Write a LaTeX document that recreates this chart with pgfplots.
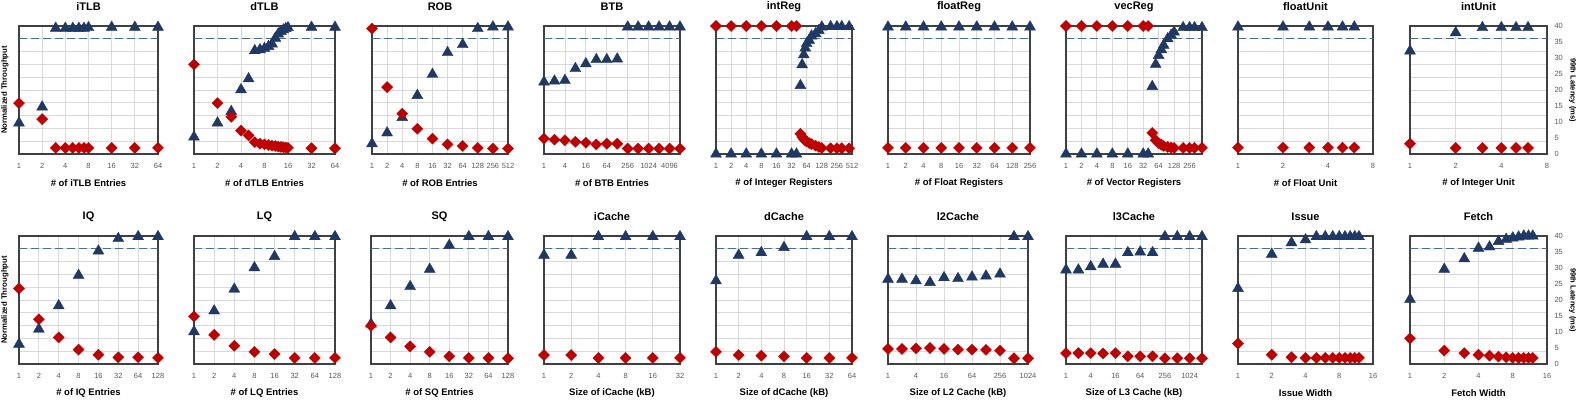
\documentclass[border=0pt]{standalone}
\usepackage{fontspec}
\setmainfont{Liberation Sans}
\usepackage{pgfplots}
\pgfplotsset{compat=1.18}

\definecolor{navy}{RGB}{31,56,100}
\definecolor{darkred}{RGB}{192,0,0}
\definecolor{slablue}{RGB}{46,117,182}
\definecolor{gridgray}{RGB}{217,217,217}
\definecolor{tickgray}{RGB}{89,89,89}

\pgfplotsset{
  every axis/.append style={
    scale only axis, height=128pt,
    ymin=0, ymax=40,
    ytick={0,4,...,40}, yticklabels={},
    ymajorgrids, xmajorgrids,
    grid style={draw=gridgray, line width=0.8pt},
    axis line style={draw=black!75, line width=1.1pt},
    tick style={draw=none},
    clip=false,
    xticklabel style={font=\fontsize{7.5}{8}\selectfont, text=tickgray, yshift=-6pt},
    title style={font=\bfseries\fontsize{11}{12}\selectfont,
      at={([yshift=13pt]axis description cs:0.5,1)}, anchor=center},
    xlabel style={font=\bfseries\fontsize{9.5}{10}\selectfont,
      at={([yshift=-29pt]axis description cs:0.5,0)}, anchor=center},
  },
  myleft/.style={
    ylabel={Normalized Throughput},
    ylabel style={font=\bfseries\fontsize{7.8}{8}\selectfont,
      at={([xshift=-14pt]axis description cs:0,0.5)}, anchor=center},
  },
  myright/.style={
    yticklabel pos=right,
    extra y ticks={0,5,...,40},
    extra y tick labels={0,5,10,15,20,25,30,35,40},
    extra y tick style={grid=none},
    yticklabel style={font=\fontsize{7.5}{8}\selectfont, text=tickgray, xshift=4pt},
    ylabel={99th Latency (ms)},
    ylabel style={font=\bfseries\fontsize{7.5}{8}\selectfont,
      at={([xshift=25.5pt]axis description cs:1,0.5)}, anchor=center, rotate=180},
  },
  myslo/.style={no markers, draw=slablue, line width=1.3pt, dash pattern=on 8pt off 4pt, forget plot},
  mythr/.style={only marks, mark=triangle*, mark size=6.3pt, color=navy},
  mylat/.style={only marks, mark=square*, mark size=3.9pt, mark options={rotate=45}, color=darkred},
}

\begin{document}
\begin{tikzpicture}
\useasboundingbox (0,0) rectangle (1579pt,399pt);

% ---------------- row 1 ----------------
\begin{axis}[xmode=log, log basis x=2, myleft, anchor=south west, at={(19pt,245pt)}, width=139pt,
  title={iTLB}, xlabel={\# of iTLB Entries},
  xmin=1, xmax=64, xtick={1,2,4,8,16,32,64}, xticklabels={1,2,4,8,16,32,64}]
\addplot[myslo] coordinates {(1,36) (64,36)};
\addplot[mythr] coordinates {(1,9.7)(2,14.7)(3,39.3)(4,39.3)(5,39.3)(6,39.3)(7,39.3)(8,39.5)(16,39.6)(32,39.6)(64,39.6)};
\addplot[mylat] coordinates {(1,15.9)(2,10.9)(3,1.9)(4,1.9)(5,1.9)(6,1.9)(7,1.9)(8,1.9)(16,1.9)(32,1.9)(64,1.9)};
\end{axis}

\begin{axis}[xmode=log, log basis x=2, anchor=south west, at={(194pt,245pt)}, width=141pt,
  title={dTLB}, xlabel={\# of dTLB Entries},
  xmin=1, xmax=64, xtick={1,2,4,8,16,32,64}, xticklabels={1,2,4,8,16,32,64}]
\addplot[myslo] coordinates {(1,36) (64,36)};
\addplot[mythr] coordinates {(1,5.3)(2,9.7)(3,13.3)(4,20.1)(5,23.5)(6,32.3)(7,32.6)(8,33.0)(9,33.6)(10,34.4)(11,36.2)(12,37.5)(13,38.3)(14,38.8)(15,39.2)(16,39.5)(32,39.6)(64,39.6)};
\addplot[mylat] coordinates {(1,28.0)(2,15.9)(3,11.6)(4,7.3)(5,5.8)(6,3.7)(7,3.2)(8,3.0)(9,2.8)(10,2.6)(11,2.5)(12,2.3)(13,2.2)(14,2.1)(15,2.0)(16,1.9)(32,1.8)(64,1.8)};
\end{axis}

\begin{axis}[xmode=log, log basis x=2, anchor=south west, at={(372pt,245pt)}, width=136pt,
  title={ROB}, xlabel={\# of ROB Entries},
  xmin=1, xmax=512, xtick={1,2,4,8,16,32,64,128,256,512}, xticklabels={1,2,4,8,16,32,64,128,256,512}]
\addplot[myslo] coordinates {(1,36) (512,36)};
\addplot[mythr] coordinates {(1,3.2)(2,6.6)(4,11.4)(8,18.3)(16,24.9)(32,31.7)(64,34.2)(128,39.2)(256,39.7)(512,39.7)};
\addplot[mylat] coordinates {(1,39.2)(2,20.9)(4,12.6)(8,7.9)(16,4.8)(32,3.0)(64,2.5)(128,1.9)(256,1.7)(512,1.7)};
\end{axis}

\begin{axis}[xmode=log, log basis x=2, anchor=south west, at={(544pt,245pt)}, width=136pt,
  title={BTB}, xlabel={\# of BTB Entries},
  xmin=1, xmax=8192, xtick={1,4,16,64,256,1024,4096}, xticklabels={1,4,16,64,256,1024,4096}]
\addplot[myslo] coordinates {(1,36) (8192,36)};
\addplot[mythr] coordinates {(1,22.5)(2,22.8)(4,23.0)(8,26.7)(16,28.2)(32,29.5)(64,29.5)(128,29.7)(256,39.7)(512,39.7)(1024,39.7)(2048,39.7)(4096,39.7)(8192,39.7)};
\addplot[mylat] coordinates {(1,4.8)(2,4.5)(4,4.3)(8,3.8)(16,3.5)(32,3.0)(64,3.2)(128,3.2)(256,1.7)(512,1.7)(1024,1.7)(2048,1.7)(4096,1.7)(8192,1.7)};
\end{axis}

\begin{axis}[xmode=log, log basis x=2, anchor=south west, at={(716pt,245pt)}, width=136pt,
  title={intReg}, xlabel={\# of Integer Registers},
  xmin=1, xmax=512, xtick={1,2,4,8,16,32,64,128,256,512}, xticklabels={1,2,4,8,16,32,64,128,256,512}]
\addplot[myslo] coordinates {(1,36) (512,36)};
\addplot[mythr] coordinates {(1,0)(2,0)(4,0)(8,0)(16,0)(32,0)(40,0)(48,21.4)(52,27.9)(56,31.0)(60,33.1)(64,34.5)(72,35.5)(80,36.9)(96,37.6)(112,38.6)(128,39.7)(192,39.8)(256,39.8)(320,39.8)(448,39.8)};
\addplot[mylat] coordinates {(1,40)(2,40)(4,40)(8,40)(16,40)(32,40)(40,40)(48,6.3)(52,5.3)(56,4.7)(60,4.2)(64,3.9)(72,3.4)(80,3.1)(96,2.6)(112,2.2)(128,1.9)(192,1.8)(256,1.8)(320,1.8)(448,1.8)};
\end{axis}

\begin{axis}[xmode=log, log basis x=2, anchor=south west, at={(888pt,245pt)}, width=142pt,
  title={floatReg}, xlabel={\# of Float Registers},
  xmin=1, xmax=256, xtick={1,2,4,8,16,32,64,128,256}, xticklabels={1,2,4,8,16,32,64,128,256}]
\addplot[myslo] coordinates {(1,36) (256,36)};
\addplot[mythr] coordinates {(1,39.7)(2,39.7)(4,39.7)(8,39.7)(16,39.7)(32,39.7)(64,39.7)(128,39.7)(256,39.7)};
\addplot[mylat] coordinates {(1,1.9)(2,1.9)(4,1.9)(8,1.9)(16,1.9)(32,1.9)(64,1.9)(128,1.9)(256,1.9)};
\end{axis}

\begin{axis}[xmode=log, log basis x=2, anchor=south west, at={(1066pt,245pt)}, width=136pt,
  title={vecReg}, xlabel={\# of Vector Registers},
  xmin=1, xmax=448, xtick={1,2,4,8,16,32,64,128,256}, xticklabels={1,2,4,8,16,32,64,128,256}]
\addplot[myslo] coordinates {(1,36) (448,36)};
\addplot[mythr] coordinates {(1,0)(2,0)(4,0)(8,0)(16,0)(32,0)(40,0)(48,21.1)(56,28.0)(64,30.8)(72,32.6)(80,34.0)(96,36.0)(112,37.1)(128,38.1)(192,39.5)(256,39.5)(320,39.5)(448,39.5)};
\addplot[mylat] coordinates {(1,40)(2,40)(4,40)(8,40)(16,40)(32,40)(40,40)(48,6.6)(56,4.3)(64,3.4)(72,2.9)(80,2.5)(96,2.2)(112,2.0)(128,1.9)(192,1.9)(256,1.9)(320,1.9)(448,1.9)};
\end{axis}

\begin{axis}[xmode=log, log basis x=2, anchor=south west, at={(1238pt,245pt)}, width=135pt,
  title={floatUnit}, xlabel={\# of Float Unit},
  xmin=1, xmax=8, xtick={1,2,4,8}, xticklabels={1,2,4,8}]
\addplot[myslo] coordinates {(1,36) (8,36)};
\addplot[mythr] coordinates {(1,39.7)(2,39.7)(3,39.7)(4,39.7)(5,39.7)(6,39.7)};
\addplot[mylat] coordinates {(1,2.0)(2,2.0)(3,2.0)(4,2.0)(5,2.0)(6,2.0)};
\end{axis}

\begin{axis}[xmode=log, log basis x=2, myright, anchor=south west, at={(1410pt,245pt)}, width=137pt,
  title={intUnit}, xlabel={\# of Integer Unit},
  xmin=1, xmax=8, xtick={1,2,4,8}, xticklabels={1,2,4,8}]
\addplot[myslo] coordinates {(1,36) (8,36)};
\addplot[mythr] coordinates {(1,32.2)(2,37.9)(3,39.5)(4,39.5)(5,39.5)(6,39.5)};
\addplot[mylat] coordinates {(1,3.2)(2,1.9)(3,1.9)(4,1.9)(5,1.9)(6,1.9)};
\end{axis}

% ---------------- row 2 ----------------
\begin{axis}[xmode=log, log basis x=2, myleft, anchor=south west, at={(19pt,35pt)}, width=139pt,
  title={IQ}, xlabel={\# of IQ Entries},
  xmin=1, xmax=128, xtick={1,2,4,8,16,32,64,128}, xticklabels={1,2,4,8,16,32,64,128}]
\addplot[myslo] coordinates {(1,36) (128,36)};
\addplot[mythr] coordinates {(1,6.2)(2,10.9)(4,18.2)(8,27.7)(16,35.3)(32,39.2)(64,39.8)(128,39.8)};
\addplot[mylat] coordinates {(1,23.6)(2,14.0)(4,8.3)(8,4.5)(16,2.9)(32,2.1)(64,2.1)(128,1.9)};
\end{axis}

\begin{axis}[xmode=log, log basis x=2, anchor=south west, at={(194pt,35pt)}, width=141pt,
  title={LQ}, xlabel={\# of LQ Entries},
  xmin=1, xmax=128, xtick={1,2,4,8,16,32,64,128}, xticklabels={1,2,4,8,16,32,64,128}]
\addplot[myslo] coordinates {(1,36) (128,36)};
\addplot[mythr] coordinates {(1,10.1)(2,16.6)(4,23.4)(8,30.1)(16,33.6)(32,39.8)(64,39.8)(128,39.8)};
\addplot[mylat] coordinates {(1,14.9)(2,9.1)(4,5.7)(8,3.8)(16,3.1)(32,1.9)(64,1.9)(128,1.9)};
\end{axis}

\begin{axis}[xmode=log, log basis x=2, anchor=south west, at={(371pt,35pt)}, width=137pt,
  title={SQ}, xlabel={\# of SQ Entries},
  xmin=1, xmax=128, xtick={1,2,4,8,16,32,64,128}, xticklabels={1,2,4,8,16,32,64,128}]
\addplot[myslo] coordinates {(1,36) (128,36)};
\addplot[mythr] coordinates {(1,12.5)(2,18.2)(4,24.2)(8,29.6)(16,37.1)(32,39.8)(64,39.8)(128,39.8)};
\addplot[mylat] coordinates {(1,11.9)(2,8.3)(4,5.5)(8,3.8)(16,2.4)(32,1.9)(64,1.9)(128,1.8)};
\end{axis}

\begin{axis}[xmode=log, log basis x=2, anchor=south west, at={(544pt,35pt)}, width=136pt,
  title={iCache}, xlabel={Size of iCache (kB)},
  xmin=1, xmax=32, xtick={1,2,4,8,16,32}, xticklabels={1,2,4,8,16,32}]
\addplot[myslo] coordinates {(1,36) (32,36)};
\addplot[mythr] coordinates {(1,34.0)(2,34.0)(4,39.8)(8,39.8)(16,39.8)(32,39.8)};
\addplot[mylat] coordinates {(1,2.8)(2,2.8)(4,1.9)(8,1.9)(16,1.9)(32,1.9)};
\end{axis}

\begin{axis}[xmode=log, log basis x=2, anchor=south west, at={(716pt,35pt)}, width=136pt,
  title={dCache}, xlabel={Size of dCache (kB)},
  xmin=1, xmax=64, xtick={1,2,4,8,16,32,64}, xticklabels={1,2,4,8,16,32,64}]
\addplot[myslo] coordinates {(1,36) (64,36)};
\addplot[mythr] coordinates {(1,26.0)(2,34.0)(4,34.8)(8,36.4)(16,39.8)(32,39.8)(64,39.8)};
\addplot[mylat] coordinates {(1,3.8)(2,2.8)(4,2.6)(8,2.4)(16,1.9)(32,1.9)(64,1.9)};
\end{axis}

\begin{axis}[xmode=log, log basis x=2, anchor=south west, at={(888pt,35pt)}, width=140pt,
  title={l2Cache}, xlabel={Size of L2 Cache (kB)},
  xmin=1, xmax=1024, xtick={1,4,16,64,256,1024}, xticklabels={1,4,16,64,256,1024}]
\addplot[myslo] coordinates {(1,36) (1024,36)};
\addplot[mythr] coordinates {(1,26.5)(2,26.5)(4,26.0)(8,25.5)(16,27.0)(32,26.7)(64,27.2)(128,27.5)(256,28.1)(512,39.8)(1024,39.8)};
\addplot[mylat] coordinates {(1,4.7)(2,4.7)(4,4.9)(8,5.0)(16,4.7)(32,4.5)(64,4.5)(128,4.4)(256,4.2)(512,1.8)(1024,1.8)};
\end{axis}

\begin{axis}[xmode=log, log basis x=2, anchor=south west, at={(1066pt,35pt)}, width=136pt,
  title={l3Cache}, xlabel={Size of L3 Cache (kB)},
  xmin=1, xmax=2048, xtick={1,4,16,64,256,1024}, xticklabels={1,4,16,64,256,1024}]
\addplot[myslo] coordinates {(1,36) (2048,36)};
\addplot[mythr] coordinates {(1,29.4)(2,29.4)(4,30.4)(8,31.2)(16,31.2)(32,34.8)(64,35.0)(128,34.8)(256,39.8)(512,39.8)(1024,39.8)(2048,39.8)};
\addplot[mylat] coordinates {(1,3.4)(2,3.4)(4,3.4)(8,3.3)(16,3.4)(32,2.4)(64,2.4)(128,2.4)(256,1.8)(512,1.8)(1024,1.8)(2048,1.8)};
\end{axis}

\begin{axis}[xmode=log, log basis x=2, anchor=south west, at={(1238pt,35pt)}, width=135pt,
  title={Issue}, xlabel={Issue Width},
  xmin=1, xmax=16, xtick={1,2,4,8,16}, xticklabels={1,2,4,8,16}]
\addplot[myslo] coordinates {(1,36) (16,36)};
\addplot[mythr] coordinates {(1,23.6)(2,34.3)(3,37.9)(4,38.8)(5,39.8)(6,39.8)(7,39.8)(8,39.8)(9,39.8)(10,39.8)(11,39.8)(12,39.8)};
\addplot[mylat] coordinates {(1,6.4)(2,2.9)(3,2.1)(4,1.9)(5,1.9)(6,1.9)(7,1.9)(8,1.9)(9,1.9)(10,1.9)(11,1.9)(12,1.9)};
\end{axis}

\begin{axis}[xmode=log, log basis x=2, myright, anchor=south west, at={(1410pt,35pt)}, width=137pt,
  title={Fetch}, xlabel={Fetch Width},
  xmin=1, xmax=16, xtick={1,2,4,8,16}, xticklabels={1,2,4,8,16}]
\addplot[myslo] coordinates {(1,36) (16,36)};
\addplot[mythr] coordinates {(1,20.2)(2,29.6)(3,32.9)(4,36.2)(5,36.6)(6,38.3)(7,39.0)(8,39.4)(9,39.7)(10,40)(11,40)(12,40)};
\addplot[mylat] coordinates {(1,8.0)(2,4.2)(3,3.4)(4,2.9)(5,2.6)(6,2.3)(7,2.1)(8,1.9)(9,1.9)(10,1.9)(11,1.9)(12,1.9)};
\end{axis}

\end{tikzpicture}
\end{document}
